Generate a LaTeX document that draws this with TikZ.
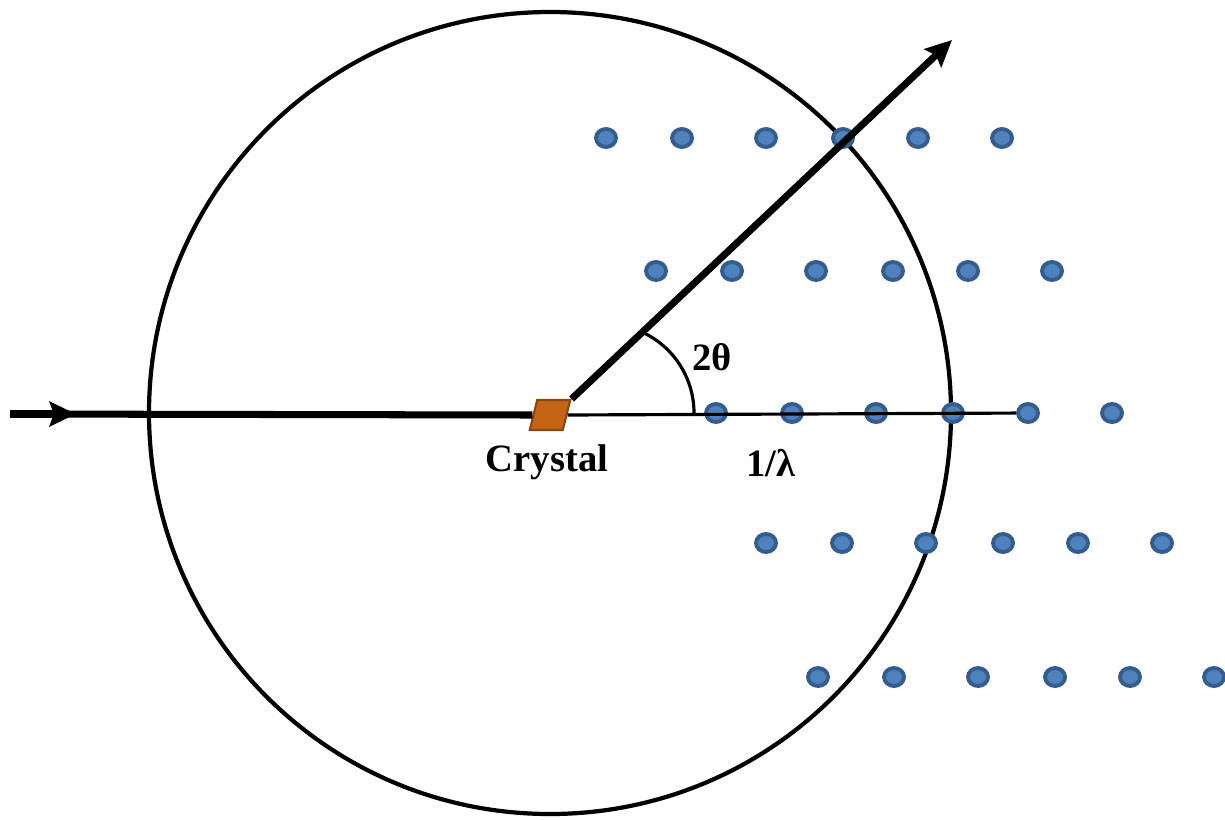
\documentclass[tikz,border=0pt]{standalone}
\usepackage{fontspec}
\setmainfont{Liberation Serif}
\usepackage{tikz}
\usetikzlibrary{arrows.meta, shapes.geometric}
\usepackage{xcolor}
\definecolor{dotblue}{RGB}{79,129,189}
\definecolor{dotedge}{RGB}{52,92,140}
\definecolor{crystalfill}{RGB}{196,100,20}
\definecolor{crystaledge}{RGB}{140,70,15}

\begin{document}
\begin{tikzpicture}[
    beam/.style={line width=2pt, color=black},
    thin/.style={line width=0.9pt, color=black},
    tip/.style={-{Stealth[length=7.5pt, width=7pt, inset=1.2pt]}},
    dot/.style={ellipse, draw=dotedge, fill=dotblue, line width=1.1pt,
                minimum width=0.2cm, minimum height=0.18cm, inner sep=0pt},
    crystal/.style={rectangle, draw=crystaledge, fill=crystalfill, line width=0.6pt,
                minimum width=0.33cm, minimum height=0.3cm, inner sep=0pt,
                xslant=0.25, transform shape},
    label/.style={font=\fontsize{11}{13}\selectfont\bfseries}
]
\useasboundingbox (0,0) rectangle (12.25,8.19);

% --- Ewald sphere ---
\node[circle, draw, line width=1.2pt, minimum size=8.02cm, inner sep=0pt] (ewald) at (5.50,4.06) {};

% --- reciprocal lattice points ---
\foreach \row/\y/\xo in {1/6.81/6.06, 2/5.48/6.56, 3/4.06/7.16, 4/2.76/7.66, 5/1.42/8.18}
  \foreach \col/\dx in {1/0, 2/0.76, 3/1.60, 4/2.37, 5/3.12, 6/3.96}
    \node[dot] (d-\row-\col) at (\xo+\dx,\y) {};

% --- Crystal ---
\node[crystal] (crys) at (5.50,4.04) {};
\node[label] (crystxt) at (5.47,3.57) {Crystal};

% --- incoming beam ---
\coordinate (src) at (0.10,4.05);
\coordinate (srcmid) at (0.76,4.05);
\draw[beam] (src) -- (crys.west);
\draw[beam, tip] (src) -- (srcmid);

% --- diffracted beam ---
\coordinate (out) at (9.52,7.79);
\draw[beam, tip] (crys.north east) -- (out);

% --- 1/lambda ---
\draw[thin] (crys.east) -- (d-3-5);
\node[label] (lam) at (7.71,3.56) {1/λ};

% --- 2 theta ---
\coordinate (arcstart) at (6.94,4.06);
\draw[line width=0.9pt] (arcstart) arc[start angle=0, end angle=64, radius=0.89];
\node[label] (ang) at (7.12,4.62) {2θ};

\end{tikzpicture}
\end{document}
